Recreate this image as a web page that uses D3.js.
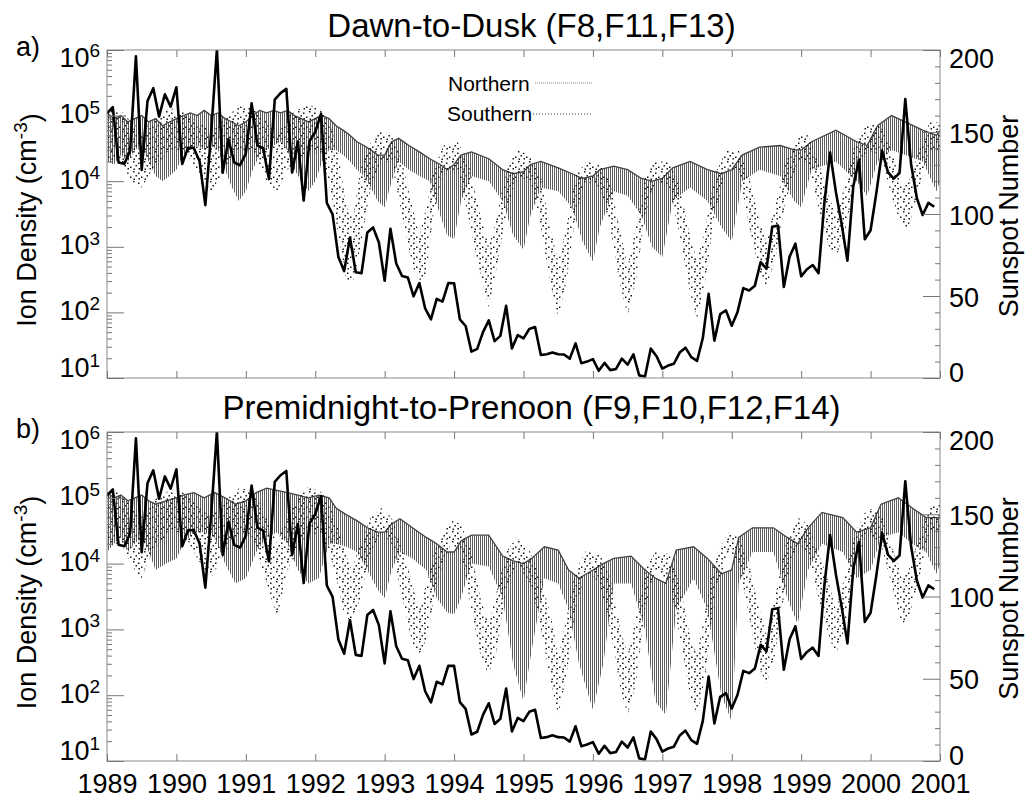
<!DOCTYPE html>
<html>
<head>
<meta charset="utf-8">
<script src="https://cdn.jsdelivr.net/npm/d3@7"></script>
<style>
  body { margin: 0; background: #fff; }
  text { font-family: "Liberation Sans", Arial, sans-serif; fill: #000; }
</style>
</head>
<body>
<div id="chart"></div>
<script>
// tick labels / categories
const yearTicks = [1989, 1990, 1991, 1992, 1993, 1994, 1995, 1996, 1997, 1998, 1999, 2000, 2001];
const densityTicks = [1e1, 1e2, 1e3, 1e4, 1e5, 1e6];
const sunTicks = [0, 50, 100, 150, 200];

// monthly sunspot number, Jan 1989 .. Dec 2000
const sunspot = [
  161.3, 165.1, 131.4, 130.6, 138.5, 196.2, 126.9, 168.9, 176.7, 159.4, 173.0, 165.5,
  177.3, 130.5, 140.3, 140.3, 132.2, 105.4, 149.4, 200.3, 125.2, 145.5, 131.4, 129.7,
  136.9, 167.5, 141.9, 140.0, 121.3, 169.7, 173.7, 176.3, 125.3, 144.1, 108.2, 144.4,
  150.0, 161.1, 106.7, 99.8, 73.8, 65.2, 85.7, 64.5, 63.9, 88.7, 91.8, 82.6,
  59.3, 91.0, 69.8, 62.2, 61.3, 49.8, 57.9, 42.4, 35.7, 48.2, 46.6, 57.9,
  57.8, 35.8, 31.7, 16.1, 17.8, 28.0, 35.1, 22.5, 25.7, 44.0, 18.0, 26.2,
  24.2, 29.9, 31.1, 14.0, 14.5, 15.6, 14.5, 14.3, 11.8, 21.1, 9.0, 10.0,
  11.5, 4.4, 9.2, 4.8, 5.5, 11.8, 8.2, 14.4, 1.6, 0.9, 17.9, 13.3,
  5.7, 7.6, 8.7, 15.5, 18.5, 12.7, 10.4, 24.4, 51.3, 22.8, 39.0, 41.2,
  31.9, 40.3, 54.8, 53.4, 56.3, 70.7, 66.6, 92.2, 92.9, 55.5, 74.0, 81.9,
  62.0, 66.3, 68.9, 63.9, 106.4, 137.4, 113.5, 93.7, 71.5, 116.7, 133.2, 84.6,
  90.1, 112.9, 138.5, 125.5, 121.6, 124.9, 170.1, 130.5, 109.7, 99.4, 106.8, 104.4
];

// ion density envelopes: [year, low, high] (cm^-3)
const northA = [
  [1989.00, 2.0e4, 1.1e5], [1989.10, 1.8e4, 9.0e4], [1989.20, 2.5e4, 1.0e5], [1989.30, 2.0e4, 8.0e4],
  [1989.40, 3.0e4, 9.0e4], [1989.50, 3.5e4, 1.0e5], [1989.60, 2.0e4, 8.0e4], [1989.70, 1.2e4, 9.0e4],
  [1989.80, 1.0e4, 7.0e4], [1989.90, 1.2e4, 8.0e4], [1990.00, 1.5e4, 9.0e4], [1990.10, 2.5e4, 1.0e5],
  [1990.20, 3.0e4, 1.1e5], [1990.30, 3.5e4, 1.0e5], [1990.40, 3.0e4, 1.2e5], [1990.50, 3.5e4, 1.0e5],
  [1990.60, 3.0e4, 1.1e5], [1990.70, 1.5e4, 9.0e4], [1990.80, 8.0e3, 8.0e4], [1990.90, 5.0e3, 7.0e4],
  [1991.00, 7.0e3, 8.0e4], [1991.10, 1.5e4, 1.0e5], [1991.20, 2.5e4, 1.2e5], [1991.30, 3.0e4, 1.1e5],
  [1991.40, 3.5e4, 1.2e5], [1991.50, 4.0e4, 1.1e5], [1991.60, 3.0e4, 1.2e5], [1991.70, 1.5e4, 1.0e5],
  [1991.80, 1.0e4, 9.0e4], [1991.90, 7.0e3, 8.0e4], [1992.00, 1.0e4, 9.0e4], [1992.10, 2.0e4, 1.0e5],
  [1992.20, 3.0e4, 9.0e4], [1992.30, 3.0e4, 7.0e4], [1992.40, 2.5e4, 6.0e4], [1992.50, 2.0e4, 5.0e4],
  [1992.60, 1.5e4, 4.0e4], [1992.70, 1.2e4, 3.5e4], [1992.80, 8.0e3, 3.0e4], [1992.90, 5.0e3, 2.5e4],
  [1993.00, 4.0e3, 2.5e4], [1993.10, 1.0e4, 4.0e4], [1993.20, 2.0e4, 4.5e4], [1993.35, 1.5e4, 3.5e4],
  [1993.50, 1.2e4, 2.8e4], [1993.65, 1.0e4, 2.2e4], [1993.80, 3.0e3, 1.8e4], [1993.90, 1.5e3, 1.5e4],
  [1994.00, 1.3e3, 1.8e4], [1994.10, 5.0e3, 2.5e4], [1994.25, 1.2e4, 2.8e4], [1994.50, 1.0e4, 2.2e4],
  [1994.70, 5.0e3, 1.5e4], [1994.85, 1.5e3, 1.3e4], [1995.00, 9.0e2, 1.4e4], [1995.10, 3.0e3, 1.8e4],
  [1995.25, 8.0e3, 2.0e4], [1995.50, 7.0e3, 1.6e4], [1995.70, 4.0e3, 1.3e4], [1995.85, 1.2e3, 1.1e4],
  [1996.00, 6.0e2, 1.2e4], [1996.10, 2.0e3, 1.5e4], [1996.30, 7.0e3, 1.7e4], [1996.50, 6.0e3, 1.5e4],
  [1996.70, 3.0e3, 1.1e4], [1996.85, 1.0e3, 1.0e4], [1997.00, 7.0e2, 1.1e4], [1997.15, 5.0e3, 1.6e4],
  [1997.40, 8.0e3, 2.0e4], [1997.65, 5.0e3, 1.5e4], [1997.85, 2.0e3, 1.3e4], [1998.00, 1.2e3, 1.5e4],
  [1998.15, 1.0e4, 2.5e4], [1998.40, 1.5e4, 3.3e4], [1998.70, 1.2e4, 3.5e4], [1998.90, 5.0e3, 3.0e4],
  [1999.00, 4.0e3, 3.0e4], [1999.15, 1.5e4, 4.0e4], [1999.50, 2.0e4, 6.0e4], [1999.80, 1.0e4, 4.0e4],
  [1999.95, 6.0e3, 3.5e4], [2000.10, 2.0e4, 7.0e4], [2000.30, 3.0e4, 1.0e5], [2000.50, 2.5e4, 8.0e4],
  [2000.75, 2.0e4, 6.0e4], [2000.95, 7.0e3, 5.0e4], [2001.00, 1.0e4, 6.0e4]
];

const southA = [
  [1989.00, 2.0e4, 1.3e5], [1989.20, 2.0e4, 1.2e5], [1989.35, 1.0e4, 8.0e4], [1989.50, 8.0e3, 6.0e4],
  [1989.65, 1.5e4, 8.0e4], [1989.90, 3.0e4, 1.3e5], [1990.10, 3.0e4, 1.2e5], [1990.30, 1.5e4, 8.0e4],
  [1990.50, 7.0e3, 6.0e4], [1990.70, 1.5e4, 9.0e4], [1990.90, 3.0e4, 1.4e5], [1991.10, 3.0e4, 1.3e5],
  [1991.30, 1.0e4, 8.0e4], [1991.45, 7.0e3, 5.0e4], [1991.60, 1.5e4, 1.0e5], [1991.90, 3.0e4, 1.5e5],
  [1992.10, 2.5e4, 1.2e5], [1992.25, 5.0e3, 6.0e4], [1992.35, 1.2e3, 2.0e4], [1992.45, 3.0e2, 4.0e3],
  [1992.55, 3.0e2, 3.0e3], [1992.65, 1.0e3, 1.5e4], [1992.80, 8.0e3, 4.0e4], [1992.95, 2.0e4, 6.0e4],
  [1993.10, 2.0e4, 5.0e4], [1993.25, 3.0e3, 2.0e4], [1993.40, 5.0e2, 4.0e3], [1993.50, 3.0e2, 1.5e3],
  [1993.60, 4.0e2, 4.0e3], [1993.70, 3.0e3, 1.5e4], [1993.85, 1.5e4, 3.5e4], [1994.05, 1.5e4, 4.0e4],
  [1994.20, 3.0e3, 2.0e4], [1994.35, 5.0e2, 4.0e3], [1994.50, 1.2e2, 1.0e3], [1994.62, 5.0e2, 3.0e3],
  [1994.75, 3.0e3, 1.5e4], [1994.90, 1.2e4, 3.0e4], [1995.10, 1.0e4, 2.5e4], [1995.25, 2.0e3, 1.2e4],
  [1995.38, 3.0e2, 2.0e3], [1995.50, 8.0e1, 6.0e2], [1995.62, 3.0e2, 2.0e3], [1995.75, 3.0e3, 1.2e4],
  [1995.90, 1.0e4, 2.0e4], [1996.10, 8.0e3, 1.8e4], [1996.25, 2.0e3, 1.0e4], [1996.38, 3.0e2, 2.0e3],
  [1996.50, 9.0e1, 5.0e2], [1996.62, 3.0e2, 2.0e3], [1996.75, 3.0e3, 1.2e4], [1996.90, 1.0e4, 2.0e4],
  [1997.10, 8.0e3, 2.0e4], [1997.25, 1.5e3, 8.0e3], [1997.40, 2.0e2, 1.5e3], [1997.50, 8.0e1, 6.0e2],
  [1997.62, 3.0e2, 2.0e3], [1997.75, 3.0e3, 1.2e4], [1997.92, 1.5e4, 3.0e4], [1998.10, 1.5e4, 3.0e4],
  [1998.25, 2.0e3, 1.2e4], [1998.40, 4.0e2, 2.5e3], [1998.50, 2.5e2, 1.2e3], [1998.62, 6.0e2, 4.0e3],
  [1998.78, 5.0e3, 2.0e4], [1998.95, 2.0e4, 5.0e4], [1999.10, 2.0e4, 5.0e4], [1999.25, 4.0e3, 2.0e4],
  [1999.40, 1.0e3, 6.0e3], [1999.50, 7.0e2, 3.0e3], [1999.62, 1.5e3, 8.0e3], [1999.78, 1.0e4, 4.0e4],
  [1999.95, 3.0e4, 8.0e4], [2000.15, 2.5e4, 7.0e4], [2000.30, 6.0e3, 3.0e4], [2000.45, 2.0e3, 8.0e3],
  [2000.55, 2.0e3, 1.0e4], [2000.70, 8.0e3, 3.0e4], [2000.85, 3.0e4, 8.0e4], [2001.00, 3.0e4, 8.0e4]
];

const northB = [
  [1989.00, 1.5e4, 1.2e5], [1989.10, 2.0e4, 1.0e5], [1989.20, 2.5e4, 1.1e5], [1989.30, 1.5e4, 9.0e4],
  [1989.40, 2.0e4, 1.0e5], [1989.50, 2.5e4, 1.1e5], [1989.60, 1.5e4, 9.0e4], [1989.70, 8.0e3, 8.0e4],
  [1989.85, 1.0e4, 9.0e4], [1990.00, 1.2e4, 1.0e5], [1990.10, 2.0e4, 1.1e5], [1990.25, 3.0e4, 1.2e5],
  [1990.40, 3.0e4, 1.0e5], [1990.55, 2.5e4, 1.2e5], [1990.70, 1.0e4, 1.0e5], [1990.85, 5.0e3, 8.0e4],
  [1991.00, 6.0e3, 9.0e4], [1991.15, 1.5e4, 1.2e5], [1991.30, 2.5e4, 1.4e5], [1991.45, 3.0e4, 1.3e5],
  [1991.60, 2.0e4, 1.2e5], [1991.75, 8.0e3, 1.1e5], [1991.90, 5.0e3, 1.0e5], [1992.05, 6.0e3, 1.1e5],
  [1992.20, 2.0e4, 1.0e5], [1992.30, 2.0e4, 7.0e4], [1992.45, 1.8e4, 5.5e4], [1992.60, 1.5e4, 4.5e4],
  [1992.75, 8.0e3, 3.5e4], [1992.90, 4.0e3, 3.0e4], [1993.00, 3.0e3, 3.0e4], [1993.10, 8.0e3, 4.0e4],
  [1993.22, 1.5e4, 4.8e4], [1993.40, 1.2e4, 3.5e4], [1993.60, 8.0e3, 2.5e4], [1993.75, 3.0e3, 2.0e4],
  [1993.90, 1.8e3, 1.5e4], [1994.00, 1.7e3, 1.5e4], [1994.10, 3.0e3, 2.2e4], [1994.25, 1.0e4, 2.7e4],
  [1994.50, 9.0e3, 2.7e4], [1994.70, 3.0e3, 1.3e4], [1994.85, 3.0e2, 1.1e4], [1995.00, 8.0e1, 1.0e4],
  [1995.12, 5.0e2, 1.2e4], [1995.30, 6.0e3, 1.8e4], [1995.50, 5.0e3, 1.6e4], [1995.65, 2.0e3, 8.0e3],
  [1995.80, 3.0e2, 6.0e3], [1996.00, 6.0e1, 8.0e3], [1996.15, 3.0e2, 1.0e4], [1996.30, 5.0e3, 1.2e4],
  [1996.55, 5.0e3, 1.3e4], [1996.75, 1.0e3, 8.0e3], [1996.90, 8.0e1, 6.0e3], [1997.05, 5.0e1, 5.0e3],
  [1997.20, 2.0e3, 1.6e4], [1997.45, 6.0e3, 1.8e4], [1997.65, 2.0e3, 1.2e4], [1997.85, 1.0e2, 7.0e3],
  [1998.00, 4.0e1, 8.0e3], [1998.10, 5.0e3, 2.5e4], [1998.30, 1.5e4, 3.5e4], [1998.60, 1.5e4, 3.5e4],
  [1998.80, 3.0e3, 2.5e4], [1998.95, 1.2e3, 2.0e4], [1999.10, 8.0e3, 3.5e4], [1999.30, 2.0e4, 6.0e4],
  [1999.60, 1.5e4, 5.0e4], [1999.80, 6.0e3, 3.0e4], [2000.00, 8.0e3, 3.5e4], [2000.15, 2.5e4, 8.0e4],
  [2000.40, 3.0e4, 1.0e5], [2000.60, 2.0e4, 7.0e4], [2000.80, 1.5e4, 5.0e4], [2000.95, 7.0e3, 5.0e4],
  [2001.00, 1.0e4, 5.0e4]
];

const southB = [
  [1989.00, 2.0e4, 1.3e5], [1989.20, 2.0e4, 1.2e5], [1989.40, 8.0e3, 6.0e4], [1989.50, 6.0e3, 5.0e4],
  [1989.65, 1.5e4, 9.0e4], [1989.90, 3.0e4, 1.3e5], [1990.10, 3.0e4, 1.2e5], [1990.30, 1.2e4, 8.0e4],
  [1990.50, 6.0e3, 5.0e4], [1990.70, 1.5e4, 9.0e4], [1990.90, 3.0e4, 1.4e5], [1991.10, 2.5e4, 1.3e5],
  [1991.30, 5.0e3, 5.0e4], [1991.45, 1.5e3, 2.0e4], [1991.60, 8.0e3, 6.0e4], [1991.90, 3.0e4, 1.5e5],
  [1992.10, 2.5e4, 1.2e5], [1992.25, 1.0e4, 6.0e4], [1992.40, 2.0e3, 2.0e4], [1992.52, 1.2e3, 8.0e3],
  [1992.65, 3.0e3, 2.0e4], [1992.80, 1.5e4, 5.0e4], [1992.95, 3.0e4, 7.0e4], [1993.10, 2.0e4, 5.0e4],
  [1993.25, 3.0e3, 1.8e4], [1993.40, 6.0e2, 5.0e3], [1993.50, 4.0e2, 2.0e3], [1993.62, 8.0e2, 6.0e3],
  [1993.75, 5.0e3, 2.0e4], [1993.95, 2.0e4, 4.5e4], [1994.10, 1.5e4, 4.0e4], [1994.25, 2.0e3, 1.5e4],
  [1994.38, 4.0e2, 3.0e3], [1994.50, 2.0e2, 1.2e3], [1994.62, 5.0e2, 4.0e3], [1994.75, 4.0e3, 1.5e4],
  [1994.90, 1.0e4, 2.5e4], [1995.10, 5.0e3, 1.5e4], [1995.25, 1.0e3, 6.0e3], [1995.40, 1.5e2, 1.5e3],
  [1995.50, 5.0e1, 4.0e2], [1995.62, 2.0e2, 1.5e3], [1995.75, 2.0e3, 8.0e3], [1995.90, 8.0e3, 1.6e4],
  [1996.10, 5.0e3, 1.4e4], [1996.25, 1.0e3, 6.0e3], [1996.40, 1.2e2, 1.0e3], [1996.50, 5.0e1, 4.0e2],
  [1996.62, 1.5e2, 1.5e3], [1996.75, 2.0e3, 8.0e3], [1996.90, 8.0e3, 1.5e4], [1997.10, 5.0e3, 1.4e4],
  [1997.25, 8.0e2, 5.0e3], [1997.40, 1.0e2, 8.0e2], [1997.50, 5.0e1, 4.0e2], [1997.62, 2.0e2, 2.0e3],
  [1997.75, 3.0e3, 1.2e4], [1997.95, 1.5e4, 3.0e4], [1998.10, 1.0e4, 2.5e4], [1998.25, 1.5e3, 1.0e4],
  [1998.40, 2.5e2, 2.0e3], [1998.50, 1.5e2, 8.0e2], [1998.62, 4.0e2, 3.0e3], [1998.78, 5.0e3, 2.0e4],
  [1998.95, 2.0e4, 5.0e4], [1999.10, 1.5e4, 4.0e4], [1999.25, 3.0e3, 1.5e4], [1999.40, 8.0e2, 5.0e3],
  [1999.50, 4.0e2, 2.0e3], [1999.62, 1.0e3, 6.0e3], [1999.78, 8.0e3, 3.0e4], [1999.95, 3.0e4, 7.0e4],
  [2000.15, 2.0e4, 6.0e4], [2000.30, 5.0e3, 2.0e4], [2000.45, 1.2e3, 6.0e3], [2000.55, 1.5e3, 8.0e3],
  [2000.70, 6.0e3, 2.5e4], [2000.85, 3.0e4, 8.0e4], [2001.00, 3.0e4, 8.0e4]
];

const width = 1029, height = 804;
const left = 107, right = 940;

const svg = d3.select("#chart")
    .append("svg")
    .attr("width", width)
    .attr("height", height);

// fill patterns: grey hatching for the northern band, stipple for the southern dots
const defs = svg.append("defs");
const hatch = defs.append("pattern").attr("id", "hatch")
    .attr("patternUnits", "userSpaceOnUse").attr("width", 2).attr("height", 4);
hatch.append("rect").attr("width", 1).attr("height", 4).attr("fill", "#5e5e5e");

const dots = defs.append("pattern").attr("id", "dots")
    .attr("patternUnits", "userSpaceOnUse").attr("width", 11).attr("height", 10);
[[1, 1], [6, 2.5], [3.5, 5], [9, 6.5], [1.5, 8.5], [6.5, 8]].forEach(p => {
  dots.append("rect").attr("x", p[0]).attr("y", p[1]).attr("width", 1.5).attr("height", 1.5).attr("fill", "#1a1a1a");
});

const x = d3.scaleLinear().domain([1989, 2001]).range([left, right]);

const panels = [
  {id: "a", top: 50, bottom: 378, north: northA, south: southA,
   title: "Dawn-to-Dusk (F8,F11,F13)", letter: "a)", years: false, legend: true},
  {id: "b", top: 432, bottom: 761, north: northB, south: southB,
   title: "Premidnight-to-Prenoon (F9,F10,F12,F14)", letter: "b)", years: true, legend: false}
];

panels.forEach(function(p) {
  const y = d3.scaleLog().domain([10, 1e6]).range([p.bottom, p.top]);
  const ys = d3.scaleLinear().domain([0, 200]).range([p.bottom, p.top]);

  svg.append("clipPath").attr("id", "clip" + p.id)
    .append("rect")
    .attr("x", left).attr("y", p.top)
    .attr("width", right - left).attr("height", p.bottom - p.top);

  const plot = svg.append("g").attr("clip-path", `url(#clip${p.id})`);

  const band = d3.area()
      .x(d => x(d[0]))
      .y0(d => y(d[1]))
      .y1(d => y(d[2]));

  // northern: hatched band with its upper edge
  plot.append("path").datum(p.north)
      .attr("d", band)
      .attr("fill", "url(#hatch)");
  plot.append("path").datum(p.north)
      .attr("d", d3.line().x(d => x(d[0])).y(d => y(d[2])))
      .attr("fill", "none")
      .attr("stroke", "#444")
      .attr("stroke-width", 1.3);

  // southern: stippled band
  plot.append("path").datum(p.south)
      .attr("d", band)
      .attr("fill", "url(#dots)");

  // sunspot number
  plot.append("path").datum(sunspot)
      .attr("d", d3.line().x((d, i) => x(1989 + i / 12)).y(d => ys(d)))
      .attr("fill", "none")
      .attr("stroke", "#000")
      .attr("stroke-width", 2.6)
      .attr("stroke-linejoin", "round");

  // frame
  svg.append("rect")
      .attr("x", left).attr("y", p.top)
      .attr("width", right - left).attr("height", p.bottom - p.top)
      .attr("fill", "none").attr("stroke", "#8a8a8a").attr("stroke-width", 1);

  const styleAxis = g => {
    g.select(".domain").remove();
    g.selectAll(".tick line").attr("stroke", "#777");
    g.attr("font-family", "Liberation Sans, Arial, sans-serif").attr("font-size", 27);
  };

  // year ticks, bottom and top
  svg.append("g")
      .attr("transform", `translate(0,${p.bottom})`)
      .call(d3.axisBottom(x).tickValues(yearTicks).tickSize(-7).tickPadding(13)
        .tickFormat(p.years ? d3.format("d") : ""))
      .call(styleAxis);
  svg.append("g")
      .attr("transform", `translate(0,${p.top})`)
      .call(d3.axisTop(x).tickValues(yearTicks).tickSize(-7).tickFormat(""))
      .call(styleAxis);

  // left log axis
  const minorLog = [];
  densityTicks.slice(0, -1).forEach(v => { for (let m = 2; m < 10; m++) minorLog.push(v * m); });
  svg.append("g")
      .attr("transform", `translate(${left},0)`)
      .call(d3.axisLeft(y).tickValues(minorLog).tickSize(-5).tickFormat(""))
      .call(styleAxis);
  const la = svg.append("g")
      .attr("transform", `translate(${left},0)`)
      .call(d3.axisLeft(y).tickValues(densityTicks).tickSize(-17).tickPadding(7))
      .call(styleAxis);
  la.selectAll(".tick text").each(function(d) {
    const t = d3.select(this);
    t.text("10").attr("dy", null)
      .attr("y", d === 1e6 ? 16 : (d === 10 ? -2 : 7));
    t.append("tspan").attr("dy", "-0.5em").attr("font-size", 19).text(Math.round(Math.log10(d)));
  });

  // right sunspot axis
  svg.append("g")
      .attr("transform", `translate(${right},0)`)
      .call(d3.axisRight(ys).tickValues(d3.range(10, 200, 10).filter(v => v % 50)).tickSize(-5).tickFormat(""))
      .call(styleAxis);
  const ra = svg.append("g")
      .attr("transform", `translate(${right},0)`)
      .call(d3.axisRight(ys).tickValues(sunTicks).tickSize(-17).tickPadding(9))
      .call(styleAxis);
  ra.selectAll(".tick text").attr("dy", null)
      .attr("y", d => d === 200 ? 17 : (d === 0 ? 3 : 10));

  // titles and labels
  svg.append("text")
      .attr("x", (left + right) / 2 + 8).attr("y", p.top - 13)
      .attr("text-anchor", "middle")
      .attr("font-size", 33)
      .text(p.title);

  svg.append("text")
      .attr("x", 16).attr("y", p.top + 6)
      .attr("font-size", 27)
      .text(p.letter);

  const ion = svg.append("text")
      .attr("transform", `translate(36,${(p.top + p.bottom) / 2 + 6}) rotate(-90)`)
      .attr("text-anchor", "middle")
      .attr("font-size", 27)
      .text("Ion Density (cm");
  ion.append("tspan").attr("dy", "-0.5em").attr("font-size", 19).text("-3");
  ion.append("tspan").attr("dy", "0.5em").text(")");

  svg.append("text")
      .attr("transform", `translate(1018,${(p.top + p.bottom) / 2 + 2}) rotate(-90)`)
      .attr("text-anchor", "middle")
      .attr("font-size", 27)
      .text("Sunspot Number");

  if (p.legend) {
    const lg = svg.append("g").attr("font-size", 21);
    lg.append("text").attr("x", 448).attr("y", 91).text("Northern");
    lg.append("line").attr("x1", 535).attr("x2", 593).attr("y1", 83).attr("y2", 83)
      .attr("stroke", "#888").attr("stroke-width", 1).attr("stroke-dasharray", "1,1");
    lg.append("text").attr("x", 447).attr("y", 121).text("Southern");
    lg.append("line").attr("x1", 533).attr("x2", 592).attr("y1", 114).attr("y2", 114)
      .attr("stroke", "#333").attr("stroke-width", 1).attr("stroke-dasharray", "1,2");
  }
});
</script>
</body>
</html>
